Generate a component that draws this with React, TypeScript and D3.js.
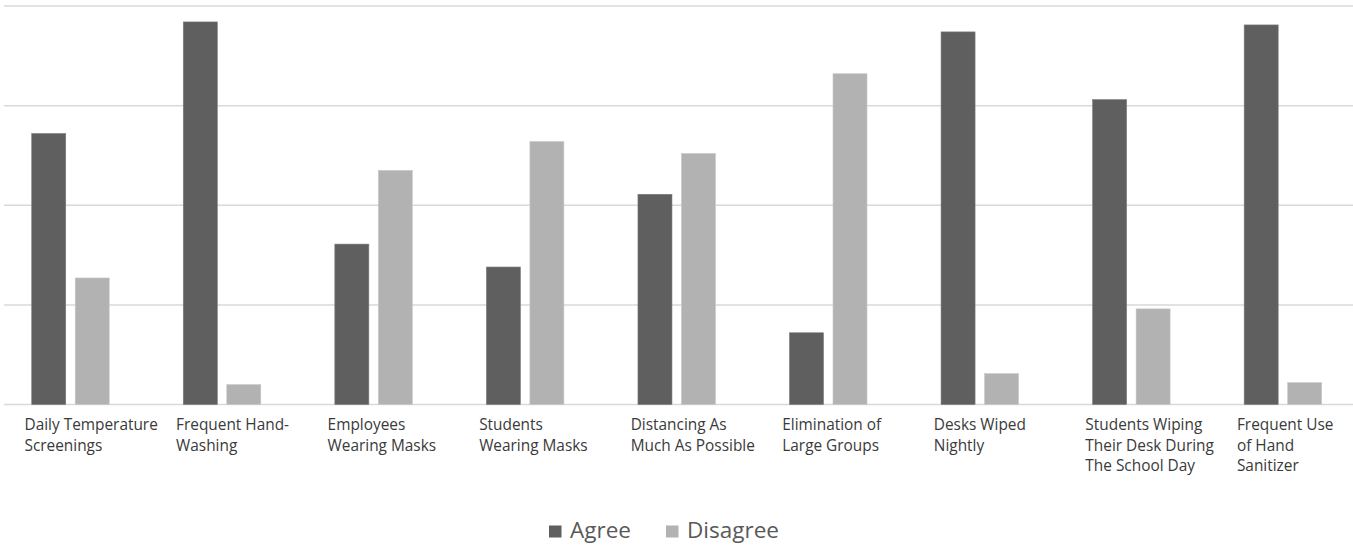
import React, { useEffect, useRef } from "react";
import * as d3 from "d3";

const categories = [
  "Daily Temperature\nScreenings",
  "Frequent Hand-\nWashing",
  "Employees\nWearing Masks",
  "Students\nWearing Masks",
  "Distancing As\nMuch As Possible",
  "Elimination of\nLarge Groups",
  "Desks Wiped\nNightly",
  "Students Wiping\nTheir Desk During\nThe School Day",
  "Frequent Use\nof Hand\nSanitizer",
];
const seriesNames = ["Agree", "Disagree"];
const agree = [27.2, 38.4, 16.1, 13.8, 21.1, 7.2, 37.4, 30.6, 38.1];
const disagree = [12.7, 2.0, 23.5, 26.4, 25.2, 33.2, 3.1, 9.6, 2.2];
const yTicks = [0, 10, 20, 30, 40];
const colors = ["#5f5f5f", "#b2b2b2"];

const W = 1353;
const H = 546;

export default function App() {
  const ref = useRef<SVGSVGElement>(null);
  useEffect(() => {
    const svg = d3.select(ref.current);
    svg.selectAll("*").remove();
    const font = "'Open Sans', Lato, sans-serif";

    const x = d3.scaleBand<number>().domain(d3.range(categories.length)).range([-5.3, 1358.7]).padding(0);
    const xs = d3.scaleBand<number>().domain([0, 1]).range([-38.75, 38.75]).paddingInner(0.218).paddingOuter(0);
    const y = d3.scaleLinear().domain([0, 40]).range([404.5, 6]);

    svg.append("g")
      .selectAll("line")
      .data(yTicks)
      .join("line")
      .attr("x1", 4)
      .attr("x2", W)
      .attr("y1", (d) => y(d))
      .attr("y2", (d) => y(d))
      .attr("stroke", "#d9d9d9")
      .attr("stroke-width", 1.5);

    const series = [agree, disagree];
    const g = svg.append("g");
    series.forEach((vals, si) => {
      g.append("g")
        .selectAll("rect")
        .data(vals)
        .join("rect")
        .attr("x", (_, i) => (x(i) as number) + x.bandwidth() / 2 + (xs(si) as number))
        .attr("width", xs.bandwidth())
        .attr("y", (d) => y(d))
        .attr("height", (d) => y(0) - y(d))
        .attr("fill", colors[si])
        .attr("stroke", si === 0 ? "#7a7a7a" : "#c8c8c8")
        .attr("stroke-width", 0.6);
    });

    const lg = svg.append("g");
    categories.forEach((c, i) => {
      const cx = (x(i) as number) + x.bandwidth() / 2;
      const t = lg.append("text")
        .attr("x", cx - 46)
        .attr("y", 430)
        .attr("font-family", font)
        .attr("font-size", 15.4)
        .attr("fill", "#3a3a3a");
      c.split("\n").forEach((line, li) => {
        t.append("tspan").attr("x", cx - 46).attr("dy", li === 0 ? 0 : 20.5).text(line);
      });
    });

    const leg = svg.append("g");
    const legX = [549, 666];
    seriesNames.forEach((n, i) => {
      leg.append("rect").attr("x", legX[i]).attr("y", 525.5).attr("width", 12.5).attr("height", 12).attr("fill", colors[i]);
      leg.append("text")
        .attr("x", legX[i] + 21)
        .attr("y", 537.5)
        .attr("font-family", font)
        .attr("font-size", 22.5)
        .attr("fill", "#595959")
        .text(n);
    });
  }, []);
  return (
    <svg ref={ref} width={W} height={H} style={{ position: "absolute", left: 0, top: 0, background: "#fff" }} />
  );
}
